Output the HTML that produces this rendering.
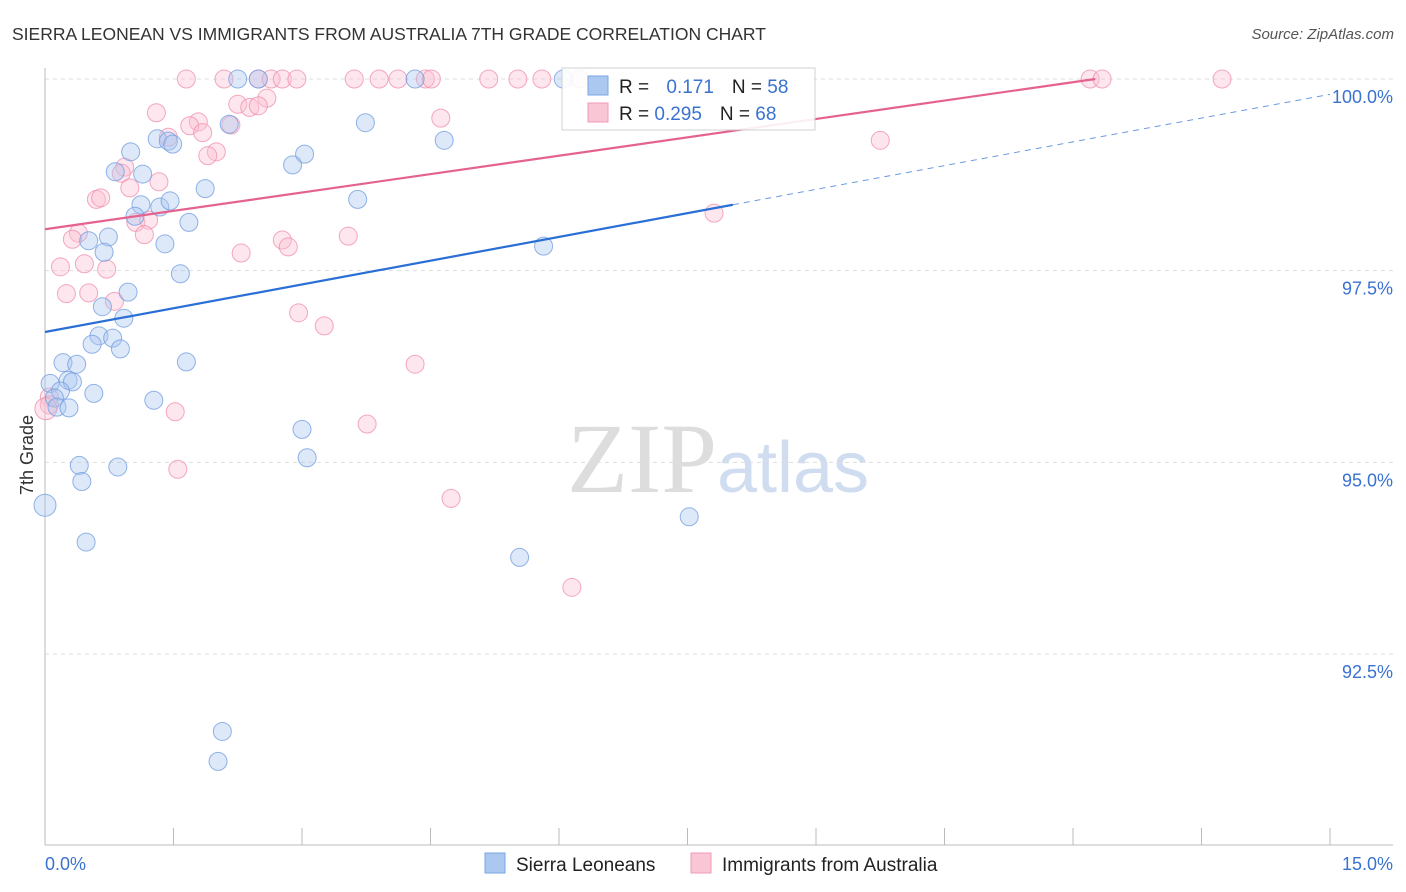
<!DOCTYPE html>
<html><head><meta charset="utf-8">
<style>
body{margin:0;background:#fff;font-family:"Liberation Sans",sans-serif;}
svg{display:block}
</style></head>
<body>
<svg id="c" width="1406" height="892" xmlns="http://www.w3.org/2000/svg">
<text x="12" y="40" font-size="17.5" fill="#333">SIERRA LEONEAN VS IMMIGRANTS FROM AUSTRALIA 7TH GRADE CORRELATION CHART</text>
<text x="1394" y="39" font-size="15" fill="#555" font-style="italic" text-anchor="end">Source: ZipAtlas.com</text>
<text x="0" y="0" font-size="18" fill="#333" transform="translate(33,455) rotate(-90)" text-anchor="middle">7th Grade</text>
<text x="718" y="492" font-size="100" fill="#ddd" text-anchor="middle" font-family="Liberation Serif,serif">ZIP<tspan fill="#d0ddf0" font-family="Liberation Sans,sans-serif" font-size="72">atlas</tspan></text>
<g id="grid"></g><g id="pts"></g><g id="lines"></g>
<g>
<rect x="562" y="68" width="253" height="62" fill="#fff" stroke="#ccc" opacity="0.9"/>
<rect x="588" y="76" width="20" height="19" fill="#aac8f0" stroke="#7aa6e0"/>
<rect x="588" y="103" width="20" height="19" fill="#f9c6d5" stroke="#f09ab4"/>
<text x="619" y="93" font-size="19" fill="#222">R = <tspan fill="#3a72d0" dx="12">0.171</tspan><tspan fill="#222" dx="18">N = </tspan><tspan fill="#3a72d0">58</tspan></text>
<text x="619" y="120" font-size="19" fill="#222">R = <tspan fill="#3a72d0">0.295</tspan><tspan fill="#222" dx="18">N = </tspan><tspan fill="#3a72d0">68</tspan></text>
</g>
<g>
<rect x="485" y="853" width="20" height="20" fill="#aac8f0" stroke="#7aa6e0"/>
<text x="516" y="871" font-size="19" fill="#222">Sierra Leoneans</text>
<rect x="691" y="853" width="20" height="20" fill="#f9c6d5" stroke="#f09ab4"/>
<text x="722" y="871" font-size="19" fill="#222">Immigrants from Australia</text>
</g>
<text x="45" y="870" font-size="18" fill="#3a72d0">0.0%</text>
<text x="1393" y="870" font-size="18" fill="#3a72d0" text-anchor="end">15.0%</text>
</svg>
<script>
const blueX=[2.25,2.49,4.32,6.05,3.74,4.66,2.15,1.31,1.44,1.49,1.00,3.03,2.89,0.82,1.14,1.87,3.65,1.12,1.34,1.46,1.05,1.68,0.74,0.51,1.40,0.69,5.82,1.58,0.97,0.67,0.92,0.63,0.79,0.55,0.88,1.65,0.21,0.37,0.06,0.27,0.32,0.18,0.57,0.11,1.27,0.14,0.28,3.00,0.40,0.85,3.06,0.43,0.0,7.52,0.48,5.54,2.07,2.02];
const blueY=[100,100,100,100,99.43,99.20,99.41,99.22,99.19,99.15,99.05,99.02,98.88,98.79,98.76,98.57,98.43,98.36,98.33,98.41,98.21,98.13,97.94,97.89,97.85,97.74,97.82,97.46,97.22,97.03,96.88,96.65,96.62,96.54,96.48,96.31,96.30,96.28,96.03,96.07,96.05,95.93,95.90,95.84,95.81,95.72,95.71,95.43,94.96,94.94,95.06,94.75,94.44,94.29,93.96,93.76,91.49,91.10];
const pinkX=[1.65,2.09,2.49,2.64,2.77,2.94,3.61,3.90,4.12,4.44,4.51,5.18,5.52,5.80,6.24,12.2,12.34,13.74,1.30,4.62,2.25,2.59,2.39,2.49,1.79,1.69,2.17,1.44,1.84,9.75,2.00,1.90,0.93,0.89,1.33,0.99,0.60,0.65,7.81,1.06,1.21,1.16,0.39,0.32,2.29,2.77,2.84,3.54,0.18,0.46,0.72,0.25,0.51,0.81,2.96,3.26,4.32,0.05,0.05,0.01,1.52,3.76,1.55,4.74,6.15];
const pinkY=[100,100,100,100,100,100,100,100,100,100,100,100,100,100,100,100,100,100,99.56,99.49,99.67,99.75,99.63,99.65,99.44,99.39,99.40,99.24,99.30,99.20,99.05,99.00,98.85,98.77,98.66,98.58,98.43,98.45,98.25,98.13,98.16,97.97,97.99,97.91,97.73,97.90,97.81,97.95,97.55,97.59,97.52,97.20,97.21,97.10,96.95,96.78,96.28,95.85,95.75,95.70,95.66,95.50,94.91,94.53,93.37];
const blueLine=[0,96.70,8.03,98.36];
const blueDash=[8.03,98.36,15,99.80];
const pinkLine=[0,98.04,12.26,100];
const yTicks=[100,97.5,95,92.5];
const yTickLabels=["100.0%","97.5%","95.0%","92.5%"];
const xTicks=[0,1.5,3,4.5,6,7.5,9,10.5,12,13.5,15];
const NS="http://www.w3.org/2000/svg";
const X=v=>45+v*85.667, Y=v=>79+(100-v)*76.67;
function mk(p,t,a){const e=document.createElementNS(NS,t);for(const k in a)e.setAttribute(k,a[k]);p.appendChild(e);return e;}
const g=document.getElementById('grid');
yTicks.forEach((t,i)=>{
 const l=mk(g,'line',{x1:45,x2:1393,y1:Y(t),y2:Y(t),stroke:'#ddd','stroke-dasharray':'4,4'});
 
 
 const tx=mk(g,'text',{x:1393,y:Y(t)+24,'font-size':18,fill:'#3a72d0','text-anchor':'end'});
 tx.textContent=yTickLabels[i];
 
 
});
mk(g,'line',{x1:45,x2:45,y1:68,y2:845,stroke:'#bbb'});
mk(g,'line',{x1:45,x2:1393,y1:845,y2:845,stroke:'#bbb'});
xTicks.forEach(t=>{const l=mk(g,'line',{x1:X(t),x2:X(t),y1:828,y2:845,stroke:'#bbb'});
 
 });
const p=document.getElementById('pts');
function pts(xs,ys,fill,stroke,name){xs.forEach((x,i)=>{
 const c=mk(p,'circle',{cx:X(x),cy:Y(ys[i]),r:(x<0.03?11:9),fill:fill,'fill-opacity':0.4,stroke:stroke,'stroke-opacity':0.75});
 
 });}
pts(pinkX,pinkY,'#f9c0d2','#f08cac','pink-point');
pts(blueX,blueY,'#a9c6f0','#6d9be0','blue-point');
const L=document.getElementById('lines');
function ln(a,col,w,dash,name){const e=mk(L,'line',{x1:X(a[0]),y1:Y(a[1]),x2:X(a[2]),y2:Y(a[3]),stroke:col,'stroke-width':w});
 if(dash)e.setAttribute('stroke-dasharray',dash);
 
 }
ln(blueLine,'#2a6fd6',2.2,null,'blue-trend-line');
ln(blueDash,'#6d9be0',1,'6,5','blue-trend-extension');
ln(pinkLine,'#e5628f',2.2,null,'pink-trend-line');
</script>
</body></html>
